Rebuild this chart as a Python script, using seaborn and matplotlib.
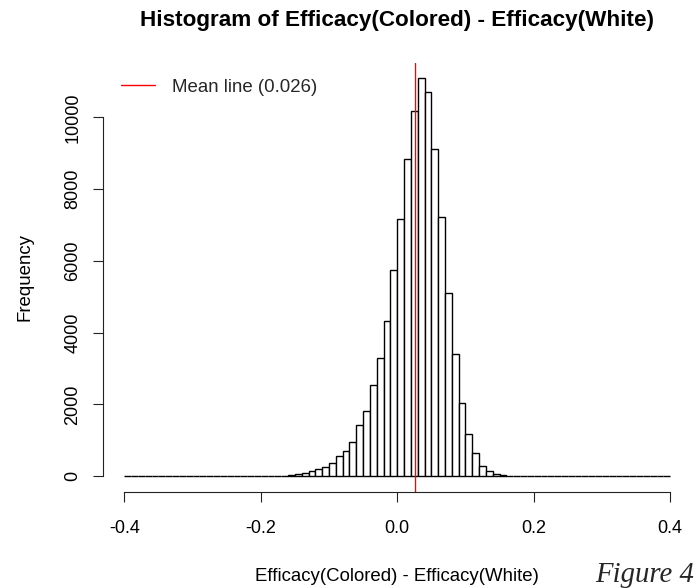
import numpy as np
import pandas as pd
import matplotlib
matplotlib.use("Agg")
import matplotlib.pyplot as plt
import seaborn as sns

# ---- data (bin width 0.01) ----
bin_lefts = [-0.18, -0.17, -0.16, -0.15, -0.14, -0.13, -0.12, -0.11, -0.10, -0.09,
             -0.08, -0.07, -0.06, -0.05, -0.04, -0.03, -0.02, -0.01, 0.00, 0.01,
             0.02, 0.03, 0.04, 0.05, 0.06, 0.07, 0.08, 0.09, 0.10, 0.11,
             0.12, 0.13, 0.14, 0.15, 0.16]
counts = [6, 12, 24, 56, 88, 148, 204, 250, 352, 552,
          690, 960, 1428, 1809, 2541, 3293, 4331, 5732, 7170, 8839,
          10175, 11084, 10703, 9108, 7234, 5101, 3395, 2035, 1168, 635,
          274, 144, 70, 28, 6]
bin_width = 0.01
mean_value = 0.026
x_ticks = [-0.4, -0.2, 0.0, 0.2, 0.4]
y_ticks = [0, 2000, 4000, 6000, 8000, 10000]
title = "Histogram of Efficacy(Colored) - Efficacy(White)"
xlabel = "Efficacy(Colored) - Efficacy(White)"
ylabel = "Frequency"
legend_label = "Mean line (0.026)"
fig_caption = "Figure 4"

df = pd.DataFrame({"diff": np.array(bin_lefts) + bin_width / 2, "n": counts})
edges = [round(v, 2) for v in np.arange(-0.40, 0.40 + bin_width / 2, bin_width)]

sns.set_style("white")
plt.rcParams["font.family"] = ["Liberation Sans", "DejaVu Sans"]
plt.rcParams["axes.unicode_minus"] = False

W, H = 695, 588
fig = plt.figure(figsize=(W / 100, H / 100), dpi=100)
left_px, right_px, top_px, bot_px = 102.5, 692, 62.5, 492
ax = fig.add_axes([left_px / W, 1 - bot_px / H,
                   (right_px - left_px) / W, (bot_px - top_px) / H])

sns.histplot(data=df, x="diff", weights="n", bins=edges, color="white",
             edgecolor="black", linewidth=1.0, alpha=1, ax=ax)
ax.axvline(mean_value, color="#ff0000", linewidth=1.0, label=legend_label)

ymax = max(counts)
ax.set_xlim(-0.432, 0.432)
ax.set_ylim(-0.04 * ymax, 1.04 * ymax)

for s in ["top", "right"]:
    ax.spines[s].set_visible(False)
for s in ["left", "bottom"]:
    ax.spines[s].set_visible(True)
    ax.spines[s].set_color("#222222")
    ax.spines[s].set_linewidth(0.8)
ax.spines["left"].set_bounds(y_ticks[0], y_ticks[-1])
ax.spines["bottom"].set_bounds(x_ticks[0], x_ticks[-1])

ax.set_xticks(x_ticks)
ax.set_xticklabels([f"{t:.1f}" for t in x_ticks])
ax.set_yticks(y_ticks)
ax.set_yticklabels([str(t) for t in y_ticks], rotation=90, va="center")
ax.tick_params(axis="both", which="major", direction="out", length=7.2, width=0.8,
               color="#222222", labelsize=13, labelcolor="black",
               bottom=True, left=True, top=False, right=False)
ax.tick_params(axis="x", pad=13)
ax.tick_params(axis="y", pad=8)
ax.grid(False)

ax.set_xlabel(xlabel, fontsize=13.4, color="black")
ax.xaxis.set_label_coords(0.5, (bot_px - 581) / (bot_px - top_px))
ax.xaxis.label.set_verticalalignment("baseline")
ax.set_ylabel(ylabel, fontsize=13.4, color="black")
ax.yaxis.set_label_coords((25 - left_px) / (right_px - left_px), 0.5)
ax.yaxis.label.set_verticalalignment("center")

ax.set_title(title, fontsize=16.2, fontweight="bold", color="black", pad=0,
             x=0.5, y=(bot_px - 26) / (bot_px - top_px), va="baseline")

ax.legend(loc="center left", bbox_to_anchor=(121 / W, 1 - 87 / H),
          bbox_transform=fig.transFigure, frameon=False, fontsize=13.4,
          borderpad=0, borderaxespad=0, handlelength=1.83, handletextpad=0.91)

fig.text(694 / W, 1 - 582 / H, fig_caption, ha="right", va="baseline",
         family=["Liberation Serif", "DejaVu Serif"], style="italic", fontsize=20.7)

fig.savefig("out.png", dpi=100)
